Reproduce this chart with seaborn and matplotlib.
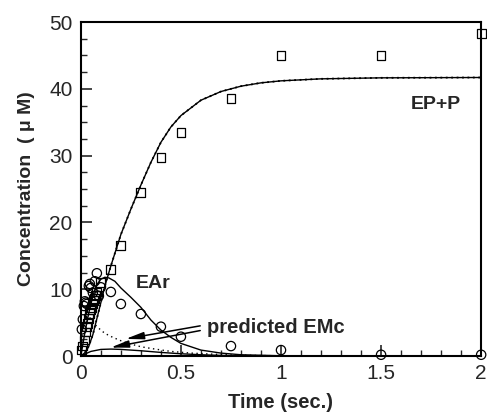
import numpy as np
import pandas as pd
import matplotlib.pyplot as plt
import seaborn as sns
from matplotlib.ticker import MultipleLocator

# measured EP+P (squares)
t_sq = [0.005, 0.01, 0.02, 0.025, 0.03, 0.035, 0.04, 0.045, 0.05, 0.055, 0.06, 0.065,
        0.07, 0.075, 0.08, 0.1, 0.15, 0.2, 0.3, 0.4, 0.5, 0.75, 1.0, 1.5, 2.0]
y_sq = [0.9, 1.5, 2.4, 3.6, 4.4, 4.9, 5.6, 6.4, 6.9, 7.2, 7.9, 8.3,
        8.6, 9.1, 9.6, 11.0, 13.0, 16.5, 24.5, 29.7, 33.5, 38.5, 45.0, 45.0, 48.3]

# measured EAr (circles)
t_ci = [0.005, 0.01, 0.015, 0.02, 0.025, 0.03, 0.04, 0.045, 0.05, 0.06, 0.07, 0.08,
        0.09, 0.1, 0.15, 0.2, 0.3, 0.4, 0.5, 0.75, 1.0, 1.5, 2.0]
y_ci = [4.0, 5.5, 7.5, 8.2, 8.0, 7.8, 10.5, 10.8, 10.2, 9.5, 11.2, 12.4,
        9.0, 10.3, 9.6, 7.8, 6.3, 4.4, 2.9, 1.5, 0.9, 0.2, 0.2]

# fitted curves
t_epp = [0, 0.02, 0.04, 0.06, 0.08, 0.1, 0.12, 0.15, 0.2, 0.25, 0.3, 0.35, 0.4, 0.45,
         0.5, 0.6, 0.7, 0.8, 0.9, 1.0, 1.2, 1.5, 2.0]
y_epp = [0, 0.5, 1.5, 3.2, 5.6, 8.0, 10.5, 13.5, 18.2, 22.0, 25.6, 29.0, 32.0, 34.3,
         36.0, 38.3, 39.6, 40.4, 40.9, 41.2, 41.5, 41.65, 41.7]

t_ear = [0, 0.02, 0.04, 0.06, 0.08, 0.1, 0.12, 0.14, 0.17, 0.2, 0.25, 0.3, 0.35, 0.4,
         0.45, 0.5, 0.6, 0.7, 0.8, 1.0, 1.2, 2.0]
y_ear = [0, 3.5, 6.5, 9.0, 10.7, 11.5, 11.8, 11.7, 11.2, 10.2, 8.8, 7.3, 5.4, 3.9,
         2.8, 1.9, 0.9, 0.45, 0.2, 0.05, 0, 0]

t_emc1 = [0, 0.01, 0.02, 0.035, 0.05, 0.08, 0.12, 0.16, 0.2, 0.25, 0.3, 0.36, 0.45,
          0.55, 0.65, 0.75, 0.9, 1.1, 1.3]
y_emc1 = [0, 3.5, 5.5, 6.0, 5.6, 4.4, 3.4, 2.8, 2.3, 1.8, 1.4, 1.1, 0.7,
          0.45, 0.3, 0.18, 0.08, 0.02, 0]

t_emc2 = [0, 0.02, 0.05, 0.1, 0.15, 0.2, 0.3, 0.4, 0.5, 0.6, 0.7, 0.8, 1.0]
y_emc2 = [0, 0.3, 0.7, 1.0, 1.05, 1.0, 0.8, 0.55, 0.35, 0.2, 0.1, 0.05, 0]

sns.set_theme(style="ticks")
plt.rcParams['font.family'] = ['Liberation Sans', 'DejaVu Sans']

fig = plt.figure(figsize=(4.87, 4.16), dpi=100)
ax = fig.add_axes([0.166, 0.144, 0.822, 0.803])

sns.lineplot(x=t_epp, y=y_epp, ax=ax, color='black', lw=1.0, sort=False, estimator=None)
sns.lineplot(x=t_epp, y=y_epp, ax=ax, color='black', lw=1.3, ls=(0, (1, 2)), sort=False, estimator=None)
sns.lineplot(x=t_ear, y=y_ear, ax=ax, color='black', lw=1.0, sort=False, estimator=None)
sns.lineplot(x=t_emc1, y=y_emc1, ax=ax, color='black', lw=1.0, ls=(0, (1, 2.5)), sort=False, estimator=None)
sns.lineplot(x=t_emc2, y=y_emc2, ax=ax, color='black', lw=1.0, sort=False, estimator=None)

sns.scatterplot(x=t_sq, y=y_sq, ax=ax, marker='s', s=40, facecolor='none',
                edgecolor='black', linewidth=0.9, clip_on=False, zorder=5)
sns.scatterplot(x=t_ci, y=y_ci, ax=ax, marker='o', s=45, facecolor='none',
                edgecolor='black', linewidth=0.9, clip_on=False, zorder=5)

ax.set_xlim(0, 2)
ax.set_ylim(0, 50)
ax.xaxis.set_major_locator(MultipleLocator(0.5))
ax.xaxis.set_minor_locator(MultipleLocator(0.1))
ax.yaxis.set_major_locator(MultipleLocator(10))
ax.yaxis.set_minor_locator(MultipleLocator(2.5))
ax.set_xticks([0, 0.5, 1, 1.5, 2])
ax.set_xticklabels(['0', '0.5', '1', '1.5', '2'])
ax.tick_params(which='major', direction='in', length=8, width=1.2, labelsize=15, pad=6)
ax.tick_params(which='minor', direction='in', length=4, width=1.0)
for sp in ax.spines.values():
    sp.set_visible(True)
    sp.set_linewidth(1.5)
    sp.set_color('black')

ax.set_xlabel('Time (sec.)', fontsize=14.5, fontweight='bold', labelpad=7)
ax.set_ylabel('Concentration  ( μ M)', fontsize=14, fontweight='bold', labelpad=10)

ax.text(0.36, 10.9, 'EAr', fontsize=14, fontweight='bold', va='center', ha='center')
ax.text(1.9, 37.6, 'EP+P', fontsize=14, fontweight='bold', va='center', ha='right')
ax.text(0.63, 4.3, 'predicted EMc', fontsize=14.5, fontweight='bold', va='center', ha='left')
ax.annotate('', xy=(0.21, 2.5), xytext=(0.61, 4.6),
            arrowprops=dict(arrowstyle='-|>,head_length=0.9,head_width=0.18', color='black', lw=1.1))
ax.annotate('', xy=(0.135, 1.2), xytext=(0.61, 3.9),
            arrowprops=dict(arrowstyle='-|>,head_length=0.9,head_width=0.18', color='black', lw=1.1))

fig.savefig('out.png', dpi=100)
